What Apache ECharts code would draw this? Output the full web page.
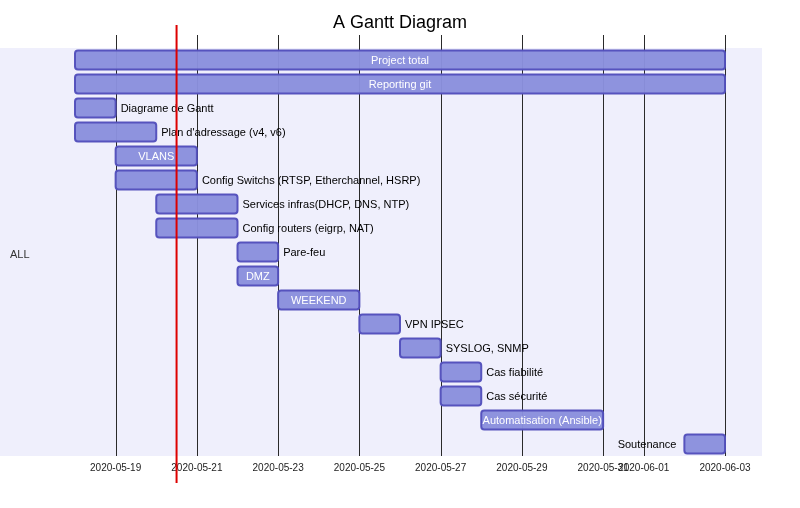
<!DOCTYPE html>
<html>
<head>
<meta charset="utf-8">
<script src="https://cdn.jsdelivr.net/npm/echarts@6.0.0/dist/echarts.min.js"></script>
<style>html,body{margin:0;padding:0;background:#fff}#c{width:800px;height:508px}</style>
</head>
<body>
<div id="c"></div>
<script>
const chartTitle = 'A Gantt Diagram';
const sectionName = 'ALL';
const taskNames = ['Project total','Reporting git','Diagrame de Gantt',"Plan d'adressage (v4, v6)",'VLANS','Config Switchs (RTSP, Etherchannel, HSRP)','Services infras(DHCP, DNS, NTP)','Config routers (eigrp, NAT)','Pare-feu','DMZ','WEEKEND','VPN IPSEC','SYSLOG, SNMP','Cas fiabilité','Cas sécurité','Automatisation (Ansible)','Soutenance'];
const taskStarts = ['2020-05-18','2020-05-18','2020-05-18','2020-05-18','2020-05-19','2020-05-19','2020-05-20','2020-05-20','2020-05-22','2020-05-22','2020-05-23','2020-05-25','2020-05-26','2020-05-27','2020-05-27','2020-05-28','2020-06-02'];
const taskEnds = ['2020-06-03','2020-06-03','2020-05-19','2020-05-20','2020-05-21','2020-05-21','2020-05-22','2020-05-22','2020-05-23','2020-05-23','2020-05-25','2020-05-26','2020-05-27','2020-05-28','2020-05-28','2020-05-31','2020-06-03'];
const tickLabels = ['2020-05-19','2020-05-21','2020-05-23','2020-05-25','2020-05-27','2020-05-29','2020-05-31','2020-06-01','2020-06-03'];
const todayMark = '2020-05-20T12:00';

function ts(s){
  const parts = s.split('T');
  const d = parts[0].split('-').map(Number);
  let h = 0, m = 0;
  if (parts[1]) { const t = parts[1].split(':').map(Number); h = t[0]; m = t[1]; }
  return Date.UTC(d[0], d[1]-1, d[2], h, m);
}
function fmt(v){
  const d = new Date(v);
  const p = n => (n < 10 ? '0' : '') + n;
  return d.getUTCFullYear() + '-' + p(d.getUTCMonth()+1) + '-' + p(d.getUTCDate());
}
const FONT = "'Liberation Sans', Arial, sans-serif";
const mc = document.createElement('canvas').getContext('2d');
mc.font = '11px ' + FONT;
function tw(t){ return mc.measureText(t).width; }

const startsTs = taskStarts.map(ts);
const endsTs = taskEnds.map(ts);
const tickTs = tickLabels.map(ts);
const xMin = Math.min.apply(null, startsTs);
const xMax = Math.max.apply(null, endsTs);

const taskData = taskNames.map((n, i) => [startsTs[i], endsTs[i], i, n]);

const chart = echarts.init(document.getElementById('c'), null, {renderer: 'canvas'});
chart.setOption({
  animation: false,
  backgroundColor: '#ffffff',
  title: {
    text: chartTitle, left: 'center', top: 9,
    textStyle: {fontSize: 18, fontWeight: 'normal', color: '#000', fontFamily: FONT}
  },
  graphic: [
    {type: 'rect', z: -10, shape: {x: 0, y: 48, width: 762, height: 408}, style: {fill: '#efeffc'}},
    {type: 'text', z: 10, left: 10, top: 249, style: {text: sectionName, fontSize: 11, fill: '#333', font: '11px ' + FONT}}
  ],
  grid: {left: 75, right: 75, top: 48, bottom: 52, containLabel: false},
  xAxis: {
    type: 'value', min: xMin, max: xMax,
    axisLine: {show: false}, axisTick: {show: false}, splitLine: {show: false},
    axisLabel: {
      customValues: tickTs, margin: 7,
      formatter: v => fmt(v),
      fontSize: 10, color: '#222', fontFamily: FONT,
      showMinLabel: true, showMaxLabel: true, hideOverlap: false
    }
  },
  yAxis: {
    type: 'category', data: taskNames, inverse: true, show: false
  },
  series: [
    {
      type: 'custom', name: 'grid', z: 1, clip: false, silent: true,
      data: tickTs.map(t => [t, 0]),
      encode: {x: 0, y: 1},
      renderItem: function (params, api) {
        const x = Math.round(api.coord([api.value(0), 0])[0]) + 0.5;
        const cs = params.coordSys;
        return {type: 'line', shape: {x1: x, y1: cs.y - 13, x2: x, y2: cs.y + cs.height},
          style: {stroke: '#2a2a2a', lineWidth: 1}};
      }
    },
    {
      type: 'custom', name: 'tasks', z: 3, clip: false,
      data: taskData,
      encode: {x: [0, 1], y: 2},
      renderItem: function (params, api) {
        const s = api.coord([api.value(0), api.value(2)]);
        const e = api.coord([api.value(1), api.value(2)]);
        const cs = params.coordSys;
        const name = taskNames[api.value(2)];
        const h = 19;
        const w = e[0] - s[0];
        const cy = s[1];
        const tW = tw(name);
        let text;
        if (tW <= w) {
          text = {type: 'text', style: {text: name, x: (s[0] + e[0]) / 2, y: cy + 0.5, align: 'center', verticalAlign: 'middle', fill: '#ffffff', font: '11px ' + FONT}};
        } else if (e[0] + 5 + tW > cs.x + cs.width) {
          text = {type: 'text', style: {text: name, x: s[0] - 8, y: cy + 0.5, align: 'right', verticalAlign: 'middle', fill: '#000', font: '11px ' + FONT}};
        } else {
          text = {type: 'text', style: {text: name, x: e[0] + 5, y: cy + 0.5, align: 'left', verticalAlign: 'middle', fill: '#000', font: '11px ' + FONT}};
        }
        return {
          type: 'group',
          children: [
            {type: 'rect', shape: {x: s[0], y: cy - h / 2, width: w, height: h, r: 3},
              style: {fill: '#8a90dd', stroke: '#534fbc', lineWidth: 2, opacity: 0.97}},
            text
          ]
        };
      }
    },
    {
      type: 'custom', name: 'today', z: 10, clip: false, silent: true,
      data: [[ts(todayMark), 0]],
      encode: {x: 0, y: 1},
      renderItem: function (params, api) {
        const x = api.coord([api.value(0), 0])[0];
        const cs = params.coordSys;
        return {type: 'line', shape: {x1: x, y1: cs.y - 23, x2: x, y2: cs.y + cs.height + 27},
          style: {stroke: '#dd0000', lineWidth: 2}};
      }
    }
  ]
});
</script>
</body>
</html>
